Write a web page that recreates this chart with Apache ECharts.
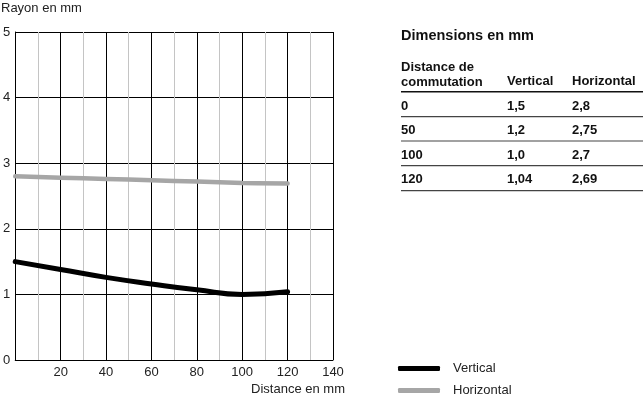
<!DOCTYPE html>
<html><head><meta charset="utf-8">
<script src="https://cdn.jsdelivr.net/npm/echarts@6/dist/echarts.min.js"></script>
<style>html,body{margin:0;padding:0;background:#fff}#c{width:643px;height:400px}</style>
</head><body><div id="c"></div>
<script>
var distances = [0, 20, 40, 60, 80, 100, 120];
var verticalVals = [1.5, 1.38, 1.26, 1.16, 1.07, 1.0, 1.04];
var horizontalVals = [2.8, 2.78, 2.76, 2.74, 2.72, 2.7, 2.69];
var xTicks = [20, 40, 60, 80, 100, 120, 140];
var yTicks = [0, 1, 2, 3, 4, 5];
var tableTitle = 'Dimensions en mm';
var tableHeader = ['Distance de\ncommutation', 'Vertical', 'Horizontal'];
var tableDist = ['0', '50', '100', '120'];
var tableVert = ['1,5', '1,2', '1,0', '1,04'];
var tableHoriz = ['2,8', '2,75', '2,7', '2,69'];
var seriesNames = ['Vertical', 'Horizontal'];

var FONT = 'Liberation Sans';
var chart = echarts.init(document.getElementById('c'));

var graphics = [];
graphics.push({type:'text', left:1, top:2, style:{text:'Rayon en mm', font:'13px "' + FONT + '"', fill:'#222'}});
graphics.push({type:'text', right:298, top:383, style:{text:'Distance en mm', font:'13px "' + FONT + '"', fill:'#222'}});
// table
var colX = [401, 507, 572];
var TF = 'bold 13px "' + FONT + '"';
graphics.push({type:'text', left:colX[0], top:28, style:{text:tableTitle, font:'bold 14.5px "' + FONT + '"', fill:'#111'}});
graphics.push({type:'text', left:colX[0], top:60, style:{text:tableHeader[0], font:TF, fill:'#111', lineHeight:15}});
graphics.push({type:'text', left:colX[1], top:75, style:{text:tableHeader[1], font:TF, fill:'#111'}});
graphics.push({type:'text', left:colX[2], top:75, style:{text:tableHeader[2], font:TF, fill:'#111'}});
var lineYs = [91.7, 116.7, 141, 165.7, 190.7];
lineYs.forEach(function(y, i){
  graphics.push({type:'line', shape:{x1:colX[0], y1:y, x2:643, y2:y}, style:{stroke: i===0 ? '#111' : '#444', lineWidth: i===0 ? 1.5 : 1.2}});
});
var rowYs = [99.5, 124, 148.5, 173];
for (var i = 0; i < tableDist.length; i++) {
  [tableDist[i], tableVert[i], tableHoriz[i]].forEach(function(t, j){
    graphics.push({type:'text', left:colX[j], top:rowYs[i], style:{text:t, font:TF, fill:'#111'}});
  });
}

var legendBase = {orient:'vertical', left:398, itemWidth:42, itemHeight:5, icon:'roundRect', padding:0,
  textStyle:{fontSize:13, color:'#222', padding:[0,0,0,8], fontFamily:FONT}};
chart.setOption({
  animation:false,
  textStyle:{fontFamily:FONT},
  grid:{left:14, right:310, top:32, bottom:40},
  legend:[
    Object.assign({}, legendBase, {top:362, data:[seriesNames[0]]}),
    Object.assign({}, legendBase, {top:384, data:[seriesNames[1]]})
  ],
  xAxis:{
    type:'value', min:0, max:140, interval:20,
    axisLine:{show:true, lineStyle:{color:'#000', width:1}},
    axisTick:{show:false},
    axisLabel:{color:'#222', fontSize:13, margin:6, formatter:function(v){return xTicks.indexOf(v) >= 0 ? String(v) : '';}},
    splitLine:{show:true, lineStyle:{color:'#000', width:1}},
    minorTick:{show:false, splitNumber:2},
    minorSplitLine:{show:true, lineStyle:{color:'#c4c4c4', width:1}}
  },
  yAxis:{
    type:'value', min:0, max:5, interval:1,
    axisLine:{show:true, lineStyle:{color:'#000', width:1}},
    axisTick:{show:false},
    axisLabel:{color:'#222', fontSize:13, margin:5, formatter:function(v){return yTicks.indexOf(v) >= 0 ? String(v) : '';}},
    splitLine:{show:true, lineStyle:{color:'#000', width:1}}
  },
  series:[
    {name:seriesNames[0], type:'line', smooth:0.5, symbol:'none',
     data:distances.map(function(d,i){return [d, verticalVals[i]];}),
     itemStyle:{color:'#000'},
     lineStyle:{color:'#000', width:5, cap:'round'}},
    {name:seriesNames[1], type:'line', smooth:0.4, symbol:'none',
     data:distances.map(function(d,i){return [d, horizontalVals[i]];}),
     itemStyle:{color:'#a6a6a6'},
     lineStyle:{color:'#a6a6a6', width:4.5, cap:'round'}}
  ],
  graphic:graphics
});
</script></body></html>
